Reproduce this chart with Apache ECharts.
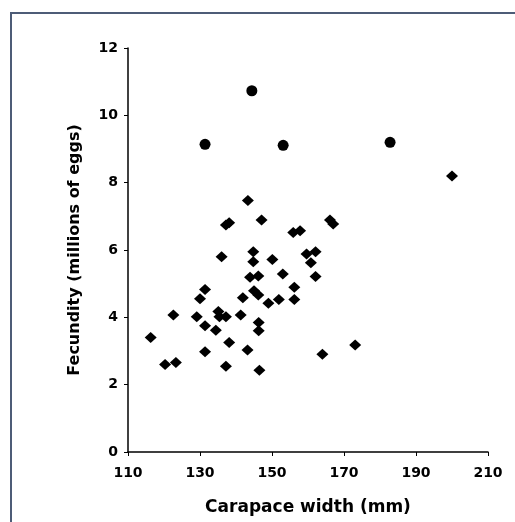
<!DOCTYPE html>
<html>
<head>
<meta charset="utf-8">
<script src="https://cdn.jsdelivr.net/npm/echarts@6/dist/echarts.min.js"></script>
<style>
  html, body { margin: 0; padding: 0; background: #fff; }
  .wrap { position: relative; width: 515px; height: 522px; overflow: hidden; }
  .frame {
    position: absolute; left: 10px; top: 12px; width: 600px; height: 600px;
    border-left: 2px solid #4d5c77; border-top: 2px solid #4d5c77;
  }
  #chart { position: absolute; left: 0; top: 0; width: 515px; height: 522px; }
</style>
</head>
<body>
<div class="wrap">
  <div class="frame"></div>
  <div id="chart"></div>
</div>
<script>
// carapace width (mm) / fecundity (millions of eggs), diamonds
const diamondX = [116.3, 120.3, 123.3, 122.6, 129.1, 130.0, 131.4, 131.4, 131.4, 134.4,
  135.1, 135.4, 137.2, 136.0, 137.2, 138.1, 138.1, 137.2, 141.3, 141.9,
  143.3, 143.2, 143.9, 144.8, 144.8, 145.0, 146.2, 146.2, 146.3, 146.3,
  146.5, 147.1, 149.0, 150.1, 151.9, 153.0, 155.9, 157.8, 156.2, 156.2,
  159.6, 162.1, 160.8, 162.1, 164.0, 166.1, 167.0, 173.1, 200.0]
const diamondY = [3.40, 2.60, 2.66, 4.07, 4.02, 4.55, 4.83, 3.75, 2.98, 3.62,
  4.17, 4.02, 4.02, 5.80, 6.74, 6.81, 3.25, 2.55, 4.07, 4.58,
  7.47, 3.03, 5.19, 5.95, 5.65, 4.79, 4.66, 5.23, 3.85, 3.60,
  2.43, 6.89, 4.42, 5.72, 4.53, 5.29, 6.52, 6.57, 4.89, 4.53,
  5.88, 5.95, 5.62, 5.21, 2.90, 6.89, 6.77, 3.18, 8.20]
// circles
const circleX = [131.4, 144.4, 153.1, 182.8]
const circleY = [9.14, 10.73, 9.11, 9.20]

const xTicks = [110, 130, 150, 170, 190, 210]
const yTicks = [0, 2, 4, 6, 8, 10, 12]

const zip = (xs, ys) => xs.map((x, i) => [x, ys[i]])

const chart = echarts.init(document.getElementById('chart'))
const font = 'DejaVu Sans, sans-serif'

chart.setOption({
  animation: false,
  grid: { left: 128, right: 27, top: 48, bottom: 70 },
  xAxis: {
    type: 'value',
    min: xTicks[0],
    max: xTicks[xTicks.length - 1],
    interval: 20,
    name: 'Carapace width (mm)',
    nameLocation: 'middle',
    nameGap: 47,
    nameTextStyle: { fontFamily: font, fontWeight: 'bold', fontSize: 17, color: '#000' },
    axisLine: { lineStyle: { color: '#000', width: 1.5 } },
    axisTick: { show: true, length: 4, lineStyle: { color: '#000', width: 1 } },
    axisLabel: { margin: 14, fontFamily: font, fontWeight: 'bold', fontSize: 14, color: '#000' },
    splitLine: { show: false }
  },
  yAxis: {
    type: 'value',
    min: yTicks[0],
    max: yTicks[yTicks.length - 1],
    interval: 2,
    name: 'Fecundity (millions of eggs)',
    nameLocation: 'middle',
    nameGap: 45,
    nameTextStyle: { fontFamily: font, fontWeight: 'bold', fontSize: 16, color: '#000' },
    axisLine: { show: true, lineStyle: { color: '#000', width: 1.5 } },
    axisTick: { show: true, length: 4, lineStyle: { color: '#000', width: 1 } },
    axisLabel: { margin: 10, fontFamily: font, fontWeight: 'bold', fontSize: 14, color: '#000' },
    splitLine: { show: false }
  },
  series: [
    {
      type: 'scatter',
      symbol: 'diamond',
      symbolSize: [12, 11],
      itemStyle: { color: '#000', opacity: 1 },
      data: zip(diamondX, diamondY)
    },
    {
      type: 'scatter',
      symbol: 'circle',
      symbolSize: 11,
      itemStyle: { color: '#000', opacity: 1 },
      data: zip(circleX, circleY)
    }
  ]
})
</script>
</body>
</html>
